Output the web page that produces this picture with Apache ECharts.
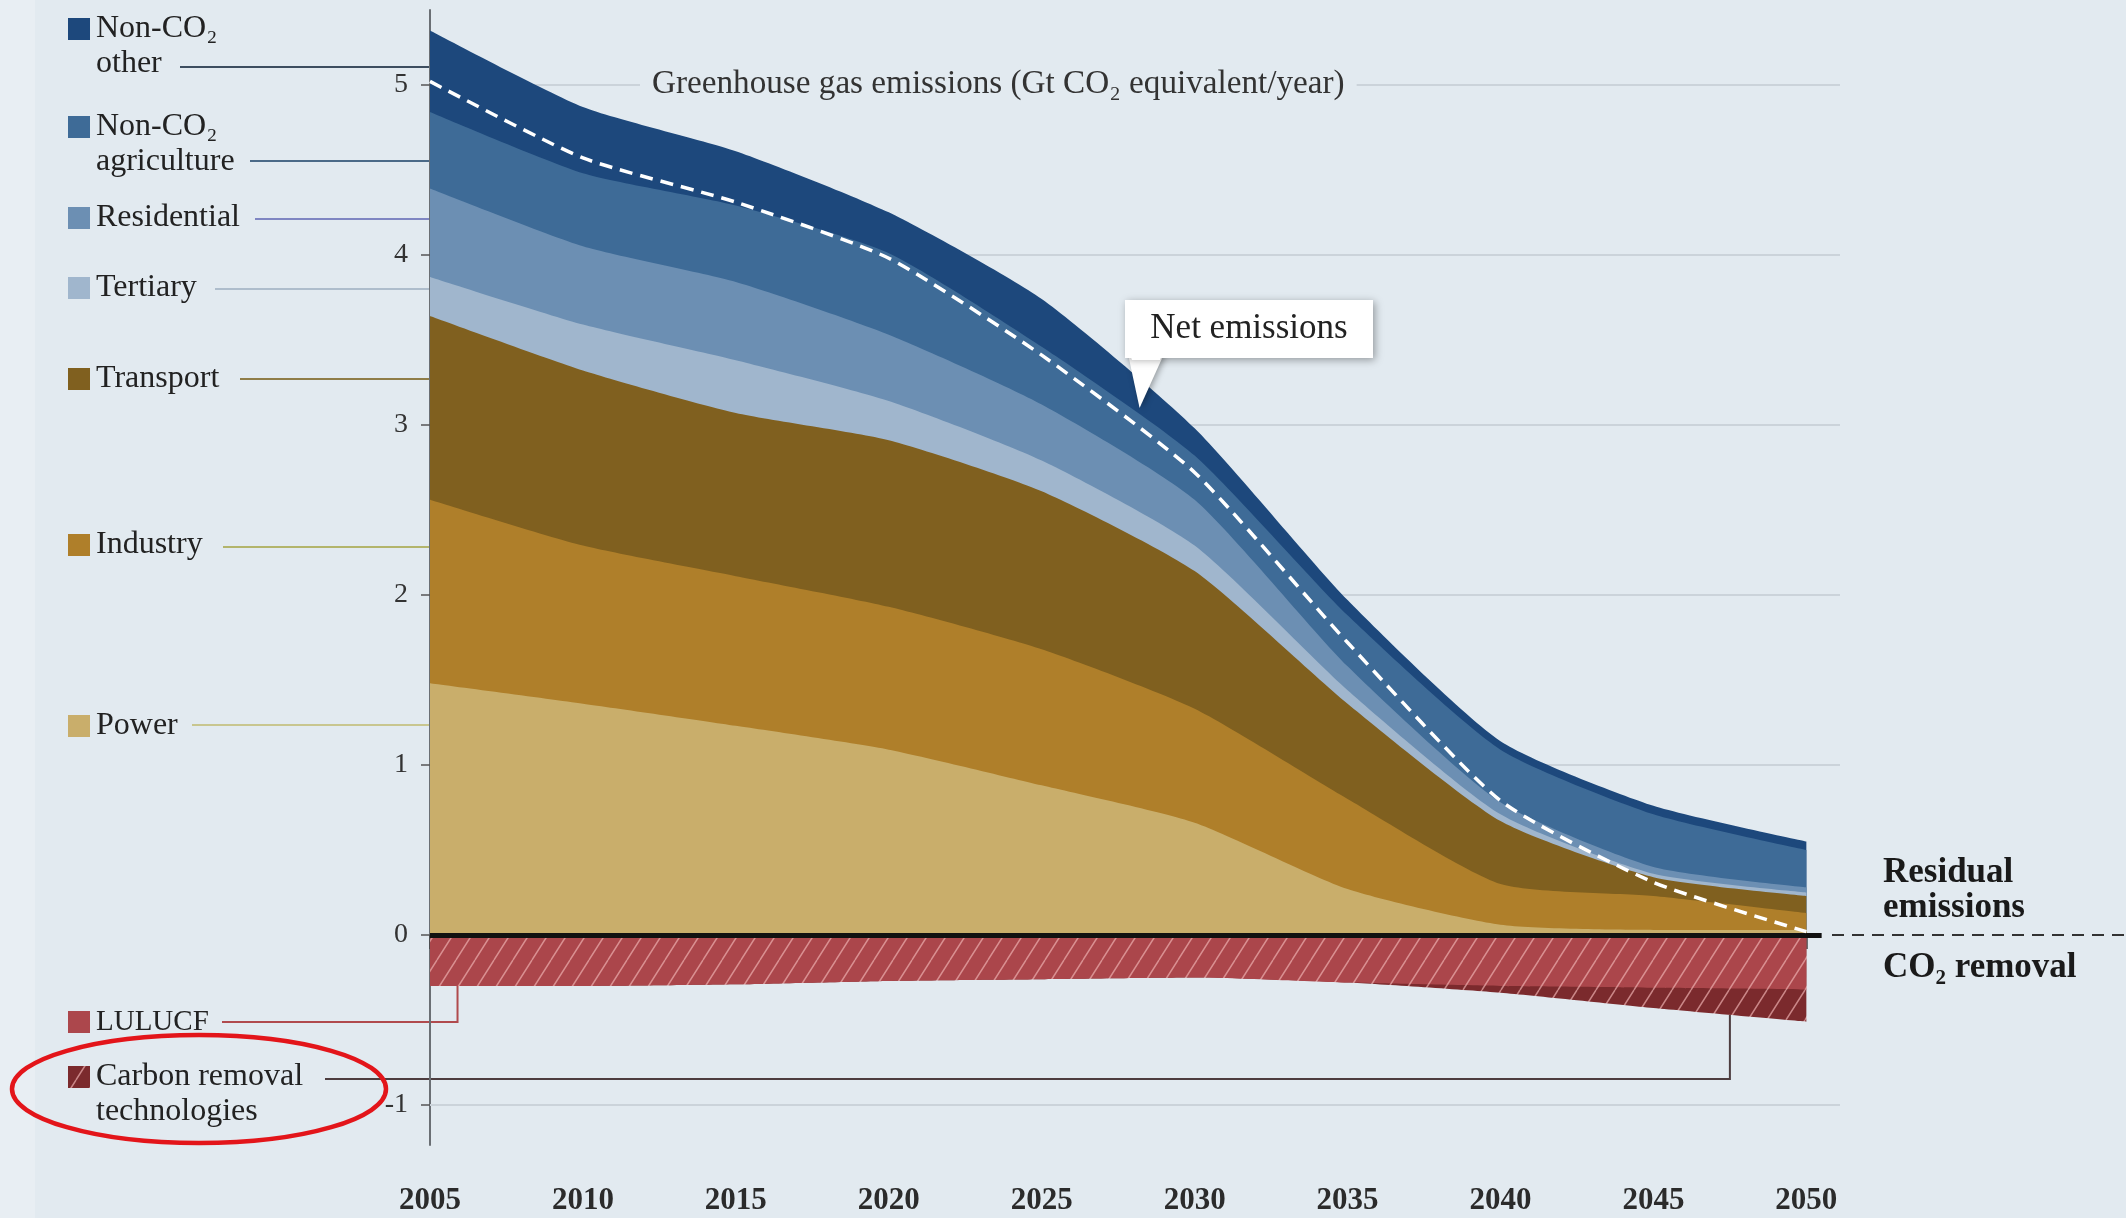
<!DOCTYPE html>
<html>
<head>
<meta charset="utf-8">
<script src="https://cdn.jsdelivr.net/npm/echarts@6/dist/echarts.min.js"></script>
<style>
html, body { margin: 0; padding: 0; background: #e2eaf0; }
#chart { width: 2126px; height: 1218px; }
</style>
</head>
<body>
<div id="chart"></div>
<script>
// values, Gt CO2 eq / year
var years = [2005, 2010, 2015, 2020, 2025, 2030, 2035, 2040, 2045, 2050];
var power       = [1.48, 1.36, 1.23, 1.09, 0.88, 0.66, 0.27, 0.06, 0.03, 0.03];
var industry    = [1.08, 0.93, 0.88, 0.84, 0.80, 0.67, 0.53, 0.24, 0.20, 0.10];
var transport   = [1.08, 1.03, 0.96, 0.98, 0.93, 0.81, 0.56, 0.37, 0.11, 0.10];
var tertiary    = [0.23, 0.27, 0.31, 0.23, 0.18, 0.15, 0.08, 0.04, 0.02, 0.02];
var residential = [0.52, 0.46, 0.46, 0.39, 0.33, 0.27, 0.14, 0.07, 0.04, 0.03];
var agriculture = [0.45, 0.43, 0.45, 0.48, 0.34, 0.26, 0.30, 0.31, 0.31, 0.22];
var other       = [0.48, 0.39, 0.32, 0.24, 0.28, 0.16, 0.09, 0.05, 0.05, 0.05];
var lulucf      = [-0.30, -0.30, -0.29, -0.27, -0.26, -0.25, -0.28, -0.30, -0.31, -0.32];
var removalTech = [0, 0, 0, 0, 0, 0, 0, -0.04, -0.12, -0.19];
var netEmissions = [5.02, 4.57, 4.31, 3.98, 3.41, 2.72, 1.72, 0.79, 0.31, 0.02];
var yTicks = [-1, 0, 1, 2, 3, 4, 5];

var SERIF = '"Liberation Serif", "DejaVu Serif", serif';
var BG = '#e2eaf0';

function pairs(vals) {
    return years.map(function (y, i) { return [y, vals[i]]; });
}

// running totals, so each layer can be painted from its top down to zero
function addUp(a, b) {
    return a.map(function (v, i) { return +(v + b[i]).toFixed(3); });
}

// linear value between the read points (used only to hook leader lines)
function valueAt(arr, year) {
    for (var i = 0; i < years.length - 1; i++) {
        if (year <= years[i + 1]) {
            var t = (year - years[i]) / (years[i + 1] - years[i]);
            return arr[i] + (arr[i + 1] - arr[i]) * t;
        }
    }
    return arr[arr.length - 1];
}

function makeHatch(bg) {
    var c = document.createElement('canvas');
    c.width = 19;
    c.height = 30;
    var ctx = c.getContext('2d');
    ctx.fillStyle = bg;
    ctx.fillRect(0, 0, 19, 30);
    ctx.strokeStyle = 'rgba(236,175,175,0.7)';
    ctx.lineWidth = 1.5;
    ctx.beginPath();
    ctx.moveTo(-19, 30); ctx.lineTo(0, 0);
    ctx.moveTo(0, 30); ctx.lineTo(19, 0);
    ctx.moveTo(19, 30); ctx.lineTo(38, 0);
    ctx.stroke();
    return c;
}

var hatchRed = makeHatch('#ab464b');
var hatchDark = makeHatch('#7b2a2d');

var layers = [
    {name: 'Power', data: power, color: '#c9ae6b'},
    {name: 'Industry', data: industry, color: '#af7f2a'},
    {name: 'Transport', data: transport, color: '#80601f'},
    {name: 'Tertiary', data: tertiary, color: '#a0b6cd'},
    {name: 'Residential', data: residential, color: '#6c8fb3'},
    {name: 'Non-CO2 agriculture', data: agriculture, color: '#3e6b97'},
    {name: 'Non-CO2 other', data: other, color: '#1d487c'}
];

var running = years.map(function () { return 0; });
layers.forEach(function (l) {
    running = addUp(running, l.data);
    l.top = running;
});

var chart = echarts.init(document.getElementById('chart'));

var series = [];

// light grid lines, kept under the areas
series.push({
    type: 'line', name: 'gridlines', data: pairs(netEmissions), z: 1, silent: true,
    symbol: 'none', lineStyle: {opacity: 0},
    markLine: {
        z: 1, silent: true, symbol: ['none', 'none'], label: {show: false},
        lineStyle: {color: '#cbd3da', width: 2, type: 'solid'},
        data: yTicks.filter(function (v) { return v !== 0; }).map(function (v) { return {yAxis: v}; })
    }
});

// top layer first, each lower one painted over it
layers.slice().reverse().forEach(function (l) {
    series.push({
        type: 'line', name: l.name, data: pairs(l.top),
        symbol: 'none', smooth: 0.2, z: 2, silent: true,
        lineStyle: {width: 0}, areaStyle: {color: l.color, opacity: 1}
    });
});

series.push({
    type: 'line', name: 'Carbon removal technologies', data: pairs(addUp(lulucf, removalTech)),
    symbol: 'none', smooth: 0.2, z: 2, silent: true,
    lineStyle: {width: 0}, areaStyle: {color: {image: hatchDark, repeat: 'repeat'}, opacity: 1}
});
series.push({
    type: 'line', name: 'LULUCF', data: pairs(lulucf),
    symbol: 'none', smooth: 0.2, z: 2, silent: true,
    lineStyle: {width: 0}, areaStyle: {color: {image: hatchRed, repeat: 'repeat'}, opacity: 1}
});

series.push({
    type: 'line', name: 'Net emissions', data: pairs(netEmissions),
    symbol: 'none', smooth: 0.2, z: 5, silent: true,
    lineStyle: {color: '#ffffff', width: 3.5, type: [13, 8]},
    markLine: {
        silent: true, symbol: ['none', 'none'], label: {show: false},
        lineStyle: {color: '#111111', width: 5, type: 'solid'},
        data: [[{coord: [2005, 0]}, {coord: [2050.5, 0]}]]
    }
});

var option = {
    animation: false,
    backgroundColor: BG,
    grid: {left: 430, right: 286, top: 10, bottom: 73},
    xAxis: {
        type: 'value', min: 2005, max: 2051.1, offset: 18,
        axisLine: {show: false},
        axisTick: {show: true, length: 14, customValues: years, lineStyle: {color: '#444', width: 1.5}},
        axisLabel: {
            customValues: years, margin: 22, fontSize: 31, fontWeight: 'bold',
            fontFamily: SERIF, color: '#2b2b2b',
            formatter: function (v) { return String(v); }
        },
        splitLine: {show: false}
    },
    yAxis: {
        type: 'value', min: -1.235, max: 5.44,
        axisLine: {show: true, lineStyle: {color: '#6a6f74', width: 2}},
        axisTick: {show: true, length: 9, customValues: yTicks, lineStyle: {color: '#555', width: 1.5}},
        axisLabel: {customValues: yTicks, margin: 22, fontSize: 28, fontFamily: SERIF, color: '#333'},
        splitLine: {show: false}
    },
    series: series
};

chart.setOption(option);

// annotations: legend, leader lines, labels
var legendItems = [
    {lines: ['Non-CO\u2082', 'other'], color: '#1d487c', y: 29, lead: [180, 67], leadColor: '#3d4e60'},
    {lines: ['Non-CO\u2082', 'agriculture'], color: '#3e6b97', y: 127, lead: [250, 161], leadColor: '#4b6a88'},
    {lines: ['Residential'], color: '#6c8fb3', y: 218, lead: [255, 219], leadColor: '#7f86c2'},
    {lines: ['Tertiary'], color: '#a0b6cd', y: 288, lead: [215, 289], leadColor: '#aebdcc'},
    {lines: ['Transport'], color: '#80601f', y: 379, lead: [240, 379], leadColor: '#8f7d48'},
    {lines: ['Industry'], color: '#af7f2a', y: 545, lead: [223, 547], leadColor: '#b3b56c'},
    {lines: ['Power'], color: '#c9ae6b', y: 726, lead: [192, 725], leadColor: '#c8c68f'},
    {lines: ['LULUCF'], color: '#ac474c', y: 1022, lead: null, size: 29},
    {lines: ['Carbon removal', 'technologies'], color: '#7b2a2d', y: 1077, lead: null}
];

var g = [];
g.push({type: 'rect', shape: {x: 0, y: 0, width: 35, height: 1218}, style: {fill: '#e8eef3'}, z: -1, silent: true});

legendItems.forEach(function (it, k) {
    var fill = it.color;
    if (k === 8) fill = {image: hatchDark, repeat: 'repeat'};
    g.push({type: 'rect', shape: {x: 68, y: it.y - 11, width: 22, height: 22}, style: {fill: fill}, silent: true});
    it.lines.forEach(function (txt, j) {
        g.push({
            type: 'text', silent: true,
            style: {
                text: txt, x: 96, y: it.y + j * 35, fill: '#222', fontSize: it.size || 32,
                fontFamily: SERIF, align: 'left', verticalAlign: 'middle'
            }
        });
    });
    if (it.lead) {
        g.push({
            type: 'line', silent: true,
            shape: {x1: it.lead[0], y1: it.lead[1], x2: 430, y2: it.lead[1]},
            style: {stroke: it.leadColor, lineWidth: 2}
        });
    }
});

// LULUCF leader hooks to the bottom of the red band
var pL = chart.convertToPixel('grid', [2005.9, valueAt(lulucf, 2005.9)]);
g.push({
    type: 'polyline', silent: true,
    shape: {points: [[222, 1022], [pL[0], 1022], [pL[0], pL[1]]]},
    style: {stroke: '#b04a4d', lineWidth: 2, fill: null}
});
// carbon removal leader hooks to the bottom of the dark band
var crtYear = 2047.5;
var pC = chart.convertToPixel('grid', [crtYear, valueAt(lulucf, crtYear) + valueAt(removalTech, crtYear)]);
g.push({
    type: 'polyline', silent: true,
    shape: {points: [[325, 1079], [pC[0], 1079], [pC[0], pC[1]]]},
    style: {stroke: '#4d3d3f', lineWidth: 2, fill: null}
});

// chart title sitting on the 5 grid line
g.push({
    type: 'text', silent: true, z: 10,
    style: {
        text: 'Greenhouse gas emissions (Gt CO\u2082 equivalent/year)', x: 640, y: 84,
        fill: '#333', fontSize: 33.2, fontFamily: SERIF, align: 'left', verticalAlign: 'middle',
        backgroundColor: BG, padding: [2, 12]
    }
});

// net emissions callout
var tip = chart.convertToPixel('grid', [2028.2, 3.1]);
g.push({
    type: 'polygon', silent: true, z: 20,
    shape: {points: [[1128, 354], [1164, 354], tip]},
    style: {fill: '#fff', shadowBlur: 6, shadowColor: 'rgba(0,0,0,0.35)', shadowOffsetX: 2, shadowOffsetY: 1}
});
g.push({
    type: 'rect', silent: true, z: 21,
    shape: {x: 1125, y: 300, width: 248, height: 58},
    style: {fill: '#fff', shadowBlur: 8, shadowColor: 'rgba(0,0,0,0.35)', shadowOffsetX: 2, shadowOffsetY: 2}
});
g.push({
    type: 'polygon', silent: true, z: 22,
    shape: {points: [[1129, 352], [1163, 352], [1160, 360], [1132, 360]]},
    style: {fill: '#fff'}
});
g.push({
    type: 'text', silent: true, z: 23,
    style: {
        text: 'Net emissions', x: 1249, y: 329, fill: '#222', fontSize: 35,
        fontFamily: SERIF, align: 'center', verticalAlign: 'middle'
    }
});

// right-hand labels and dashed continuation of zero
var p0 = chart.convertToPixel('grid', [2051.1, 0]);
g.push({
    type: 'line', silent: true,
    shape: {x1: p0[0] - 8, y1: p0[1], x2: 2126, y2: p0[1]},
    style: {stroke: '#333', lineWidth: 2, lineDash: [12, 8]}
});
g.push({
    type: 'text', silent: true,
    style: {
        text: 'Residual\nemissions', x: 1883, y: 890, fill: '#1a1a1a', fontSize: 35, fontWeight: 'bold',
        fontFamily: SERIF, align: 'left', verticalAlign: 'middle', lineHeight: 35
    }
});
g.push({
    type: 'text', silent: true,
    style: {
        text: 'CO\u2082 removal', x: 1883, y: 968, fill: '#1a1a1a', fontSize: 35, fontWeight: 'bold',
        fontFamily: SERIF, align: 'left', verticalAlign: 'middle'
    }
});

// red ellipse marking the carbon removal entry
g.push({
    type: 'ellipse', silent: true, z: 30,
    shape: {cx: 199, cy: 1089, rx: 187, ry: 54},
    style: {fill: null, stroke: '#e3151a', lineWidth: 4.5}
});

chart.setOption({graphic: g});
</script>
</body>
</html>
